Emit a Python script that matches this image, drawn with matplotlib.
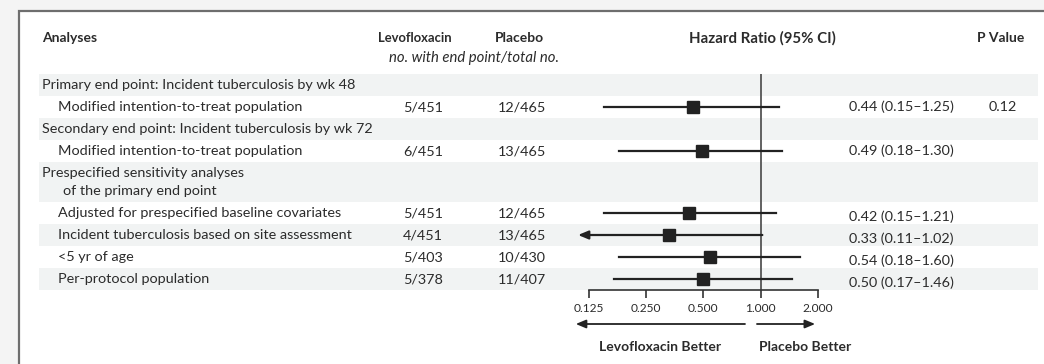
import matplotlib
matplotlib.use("Agg")
import matplotlib.pyplot as plt
from matplotlib.patches import Rectangle

# table rows, top to bottom
row_labels = [
    "Primary end point: Incident tuberculosis by wk 48",
    "Modified intention-to-treat population",
    "Secondary end point: Incident tuberculosis by wk 72",
    "Modified intention-to-treat population",
    "Prespecified sensitivity analyses\nof the primary end point",
    "Adjusted for prespecified baseline covariates",
    "Incident tuberculosis based on site assessment",
    "<5 yr of age",
    "Per-protocol population",
]
is_header = [True, False, True, False, True, False, False, False, False]
levo = ["", "5/451", "", "6/451", "", "5/451", "4/451", "5/403", "5/378"]
placebo = ["", "12/465", "", "13/465", "", "12/465", "13/465", "10/430", "11/407"]
hr = [None, 0.44, None, 0.49, None, 0.42, 0.33, 0.54, 0.50]
ci_lo = [None, 0.15, None, 0.18, None, 0.15, 0.11, 0.18, 0.17]
ci_hi = [None, 1.25, None, 1.30, None, 1.21, 1.02, 1.60, 1.46]
pval = ["", "0.12", "", "", "", "", "", "", ""]
ticks = [0.125, 0.25, 0.5, 1.0, 2.0]
tick_labels = ["0.125", "0.250", "0.500", "1.000", "2.000"]

W, H = 1044, 364
TXT = "#2b2b2b"
FS = 10.4   # body text
FB = 10     # bold headers

plt.rcParams["font.family"] = ["Lato", "DejaVu Sans"]

fig = plt.figure(figsize=(W / 100, H / 100), dpi=100)
bg = fig.add_axes([0, 0, 1, 1])
bg.set_xlim(0, W)
bg.set_ylim(H, 0)
bg.axis("off")

# outer frame
bg.add_patch(Rectangle((0, 0), W, 11, color="#f4f4f4", lw=0))
bg.add_patch(Rectangle((0, 0), 19, H, color="#f4f4f4", lw=0))
bg.plot([19, 19, W], [H, 11, 11], color="#6e6e6e", lw=1.6, solid_joinstyle="miter")

# column headers
bg.text(42, 38, "Analyses", fontsize=FB, fontweight="bold", color=TXT, va="center")
bg.text(415, 38, "Levofloxacin", fontsize=9.4, fontweight="bold", color=TXT, va="center", ha="center")
bg.text(519, 38, "Placebo", fontsize=FB, fontweight="bold", color=TXT, va="center", ha="center")
bg.text(762, 38, "Hazard Ratio (95% CI)", fontsize=10.8, fontweight="bold", color=TXT, va="center", ha="center")
bg.text(1001, 38, "P Value", fontsize=FB, fontweight="bold", color=TXT, va="center", ha="center")
bg.text(474, 58, "no. with end point/total no.", fontsize=10.7, style="italic", color=TXT, va="center", ha="center")

# row geometry
heights = [40 if "\n" in s else 22 for s in row_labels]
top = 74
centers = []
for i, h in enumerate(heights):
    if i % 2 == 0:
        bg.add_patch(Rectangle((39, top), 999, h, color="#f1f3f3", lw=0))
    centers.append(top + h / 2)
    top += h
axis_y = top

for i, lab in enumerate(row_labels):
    y = centers[i]
    if "\n" in lab:
        a, b = lab.split("\n")
        bg.text(42, y - 9, a, fontsize=FS, color=TXT, va="center")
        bg.text(63, y + 9, b, fontsize=FS, color=TXT, va="center")
    else:
        x = 42 if is_header[i] else 58
        bg.text(x, y, lab, fontsize=FS, color=TXT, va="center")
    bg.text(443, y, levo[i], fontsize=FS, color=TXT, va="center", ha="right")
    bg.text(498, y, placebo[i], fontsize=FS, color=TXT, va="center", ha="left")
    if hr[i] is not None:
        dy = 4 if i > 4 else 0
        bg.text(849, y + dy, f"{hr[i]:.2f} ({ci_lo[i]:.2f}\u2013{ci_hi[i]:.2f})",
                fontsize=FS, color=TXT, va="center")
    bg.text(1003, y, pval[i], fontsize=FS, color=TXT, va="center", ha="center")

# forest plot axes (log2 scale)
px_per = 57.35
left = 760.7 - 3.5 * px_per
fax = fig.add_axes([left / W, (H - axis_y) / H, 5 * px_per / W, (axis_y - 74) / H])
fax.set_xscale("log", base=2)
fax.set_xlim(2 ** -3.5, 2 ** 1.5)
fax.set_ylim(axis_y, 74)
fax.patch.set_visible(False)
for s in ["top", "left", "right"]:
    fax.spines[s].set_visible(False)
fax.spines["bottom"].set_bounds(ticks[0], ticks[-1])
fax.spines["bottom"].set_color("#333333")
fax.spines["bottom"].set_linewidth(1.2)
fax.set_yticks([])
fax.set_xticks(ticks)
fax.set_xticklabels(tick_labels)
fax.xaxis.set_minor_locator(matplotlib.ticker.NullLocator())
fax.tick_params(axis="x", direction="out", length=6, width=1.2, color="#333333",
                labelsize=8.6, labelcolor=TXT, pad=3)

fax.axvline(1.0, color="#555555", lw=1.3, zorder=1)

for i in range(len(hr)):
    if hr[i] is None:
        continue
    y = centers[i]
    if ci_lo[i] < ticks[0]:
        fax.annotate("", xy=(ci_lo[i], y), xytext=(ci_hi[i], y),
                     arrowprops=dict(arrowstyle="-|>,head_length=0.6,head_width=0.25",
                                     color="#222222", lw=1.6, shrinkA=0, shrinkB=0),
                     annotation_clip=False)
    else:
        fax.plot([ci_lo[i], ci_hi[i]], [y, y], color="#222222", lw=1.6, zorder=2)
    fax.plot(hr[i], y, marker="s", markersize=8, color="#222222", zorder=3)

# direction arrows
arr = dict(arrowstyle="-|>,head_length=0.6,head_width=0.25", color="#222222", lw=1.3,
           shrinkA=0, shrinkB=0)
fax.annotate("", xy=(0.107, 324), xytext=(0.827, 324), arrowprops=arr, annotation_clip=False)
fax.annotate("", xy=(1.93, 324), xytext=(0.956, 324), arrowprops=arr, annotation_clip=False)
bg.text(660, 347, "Levofloxacin Better", fontsize=FB, fontweight="bold", color=TXT, va="center", ha="center")
bg.text(805, 347, "Placebo Better", fontsize=FB, fontweight="bold", color=TXT, va="center", ha="center")

fig.savefig("out.png", dpi=100)
